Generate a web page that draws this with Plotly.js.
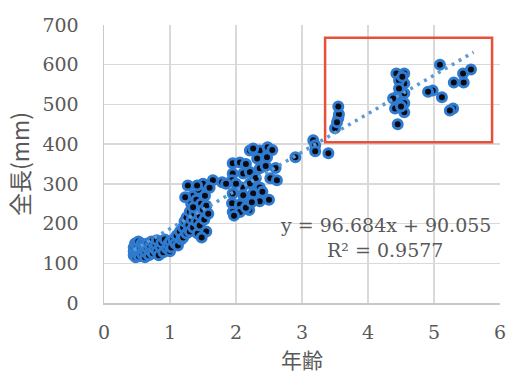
<!DOCTYPE html>
<html>
<head>
<meta charset="utf-8">
<script src="https://cdn.plot.ly/plotly-3.0.1.min.js"></script>
<style>html,body{margin:0;padding:0;background:#fff;}#chart{width:506px;height:374px;}</style>
</head>
<body>
<div id="chart"></div>
<script>
// 年齢 (age)
const ages = [
  0.45,0.45,0.45,0.47,0.48,0.50,0.50,0.50,0.52,0.53,0.55,0.55,0.57,0.58,0.60,0.60,0.62,0.63,0.65,0.66,
  0.68,0.70,0.70,0.72,0.74,0.76,0.78,0.80,0.80,0.83,0.85,0.87,0.90,0.92,0.95,0.97,1.00,1.00,
  1.02,1.05,1.08,1.10,1.12,1.15,1.17,1.20,1.20,1.22,1.25,1.25,1.28,1.30,1.30,1.32,1.33,1.35,1.35,1.37,
  1.38,1.40,1.40,1.42,1.43,1.45,1.45,1.47,1.50,1.50,1.52,1.53,1.55,1.55,1.27,1.41,1.65,1.79,1.60,1.58,
  1.48,1.23,1.35,
  1.95,2.06,2.21,2.36,2.48,2.47,2.32,2.11,1.95,2.21,2.36,2.52,2.62,1.94,2.09,2.21,2.36,1.95,2.11,2.26,
  2.41,1.94,2.06,2.21,2.36,1.95,2.06,2.20,1.97,2.15,2.30,2.45,2.60,2.00,2.15,1.85,2.40,2.50,2.26,2.24,
  2.55,2.90,3.17,3.20,3.20,3.40,3.50,3.55,3.56,3.55,3.53,
  4.43,4.55,4.55,4.55,4.43,4.38,4.55,4.41,4.55,4.45,4.47,4.47,4.50,4.52,
  5.09,4.98,4.91,5.12,5.30,5.45,5.44,5.56,5.29,5.24
];
// 全長 (mm)
const lengths = [
  120,130,140,150,115,125,135,145,155,118,130,140,150,122,135,145,115,128,140,150,
  120,132,145,155,125,138,148,130,158,120,142,152,128,160,138,148,155,130,
  140,160,150,170,145,180,160,190,165,205,175,215,195,230,180,250,210,270,190,225,
  240,260,205,175,285,220,195,250,235,300,210,270,180,245,296,296,309,304,290,225,
  165,266,241,
  352,354,384,384,392,367,364,326,326,330,339,314,309,309,291,301,291,276,271,276,
  266,251,248,256,256,229,229,234,220,240,315,345,340,300,350,300,280,260,389,254,
  385,367,410,397,382,377,440,465,475,495,455,
  578,578,553,528,518,515,503,490,480,450,560,540,495,570,
  600,535,532,518,555,555,578,588,490,485
];
// Trend line coefficients (from the chart label)
const slope = 96.684;
const intercept = 90.055;
const r2 = 0.9577;
const trendX = [0.45, 5.6];
const trendY = trendX.map(x => slope * x + intercept);
const xTicks = [0,1,2,3,4,5,6];
const yTicks = [0,100,200,300,400,500,600,700];
const xTitle = '年齢';
const yTitle = '全長(mm)';

const serif = 'DejaVu Serif, Liberation Serif, serif';
const cjk = 'Noto Sans CJK JP, DejaVu Serif, serif';

const traces = [
  {
    x: ages, y: lengths, type: 'scatter', mode: 'markers',
    marker: {size: 9, color: '#0b0b14', line: {color: '#2F7BD0', width: 3}},
    hoverinfo: 'skip'
  },
  {
    x: trendX, y: trendY, type: 'scatter', mode: 'lines',
    line: {color: '#5B9BD5', width: 3.5, dash: '3px,5px'},
    hoverinfo: 'skip'
  }
];

const layout = {
  width: 506, height: 374,
  margin: {l: 104, r: 6, t: 25, b: 71},
  paper_bgcolor: '#ffffff', plot_bgcolor: '#ffffff',
  showlegend: false,
  xaxis: {
    range: [0, 6], tickvals: xTicks, ticktext: xTicks.map(String),
    automargin: false, ticklabeloverflow: 'allow',
    showgrid: true, gridcolor: '#d9d9d9', gridwidth: 1.5,
    zeroline: false, showline: true, linecolor: '#c8c8c8', linewidth: 1.5,
    ticks: '', ticklabelstandoff: 12,
    tickfont: {family: serif, size: 19, color: '#595959'}
  },
  yaxis: {
    range: [0, 700], tickvals: yTicks, ticktext: yTicks.map(String),
    automargin: false,
    showgrid: true, gridcolor: '#d9d9d9', gridwidth: 1.5,
    zeroline: false, showline: true, linecolor: '#c8c8c8', linewidth: 1.5,
    ticks: '', ticklabelstandoff: 20,
    tickfont: {family: serif, size: 19, color: '#595959'},
    title: {text: yTitle, font: {family: cjk, size: 23, color: '#595959'}, standoff: 6}
  },
  shapes: [
    {type: 'rect', xref: 'x', yref: 'y', x0: 3.35, x1: 5.88, y0: 405, y1: 668,
     line: {color: '#E8503A', width: 2.5}, fillcolor: 'rgba(0,0,0,0)'}
  ],
  annotations: [
    {xref: 'paper', yref: 'paper', x: 0.5, y: -0.203, yanchor: 'middle', showarrow: false,
     text: xTitle, font: {family: cjk, size: 21, color: '#595959'}},
    {xref: 'x', yref: 'y', x: 4.26, y: 196, showarrow: false,
     text: 'y = ' + slope + 'x + ' + intercept.toFixed(3),
     font: {family: serif, size: 19, color: '#595959'}},
    {xref: 'x', yref: 'y', x: 4.26, y: 133, showarrow: false,
     text: 'R² = ' + r2,
     font: {family: serif, size: 19, color: '#595959'}}
  ]
};

Plotly.newPlot('chart', traces, layout, {displayModeBar: false, staticPlot: true});
</script>
</body>
</html>
